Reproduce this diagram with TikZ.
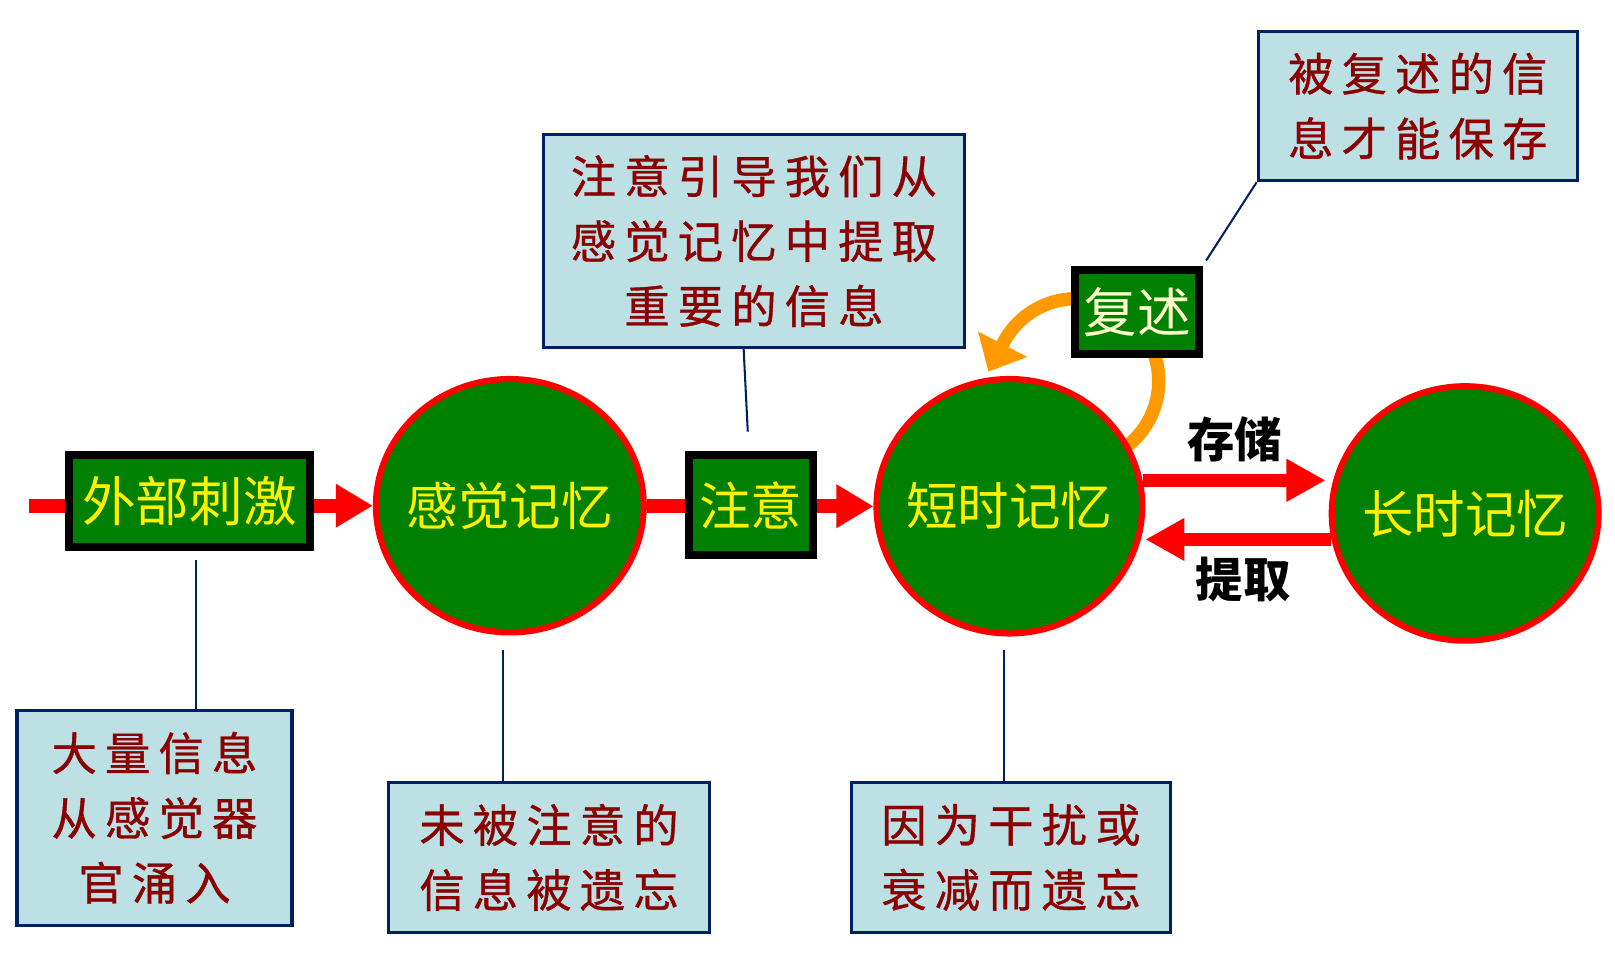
\documentclass[tikz,border=0pt]{standalone}
\usepackage{fontspec}
\setmainfont{Noto Sans CJK SC}
\newfontfamily\cjkspaced[LetterSpace=18,FakeBold=0.8]{Noto Sans CJK SC}
\usetikzlibrary{arrows.meta,shapes.geometric,calc}
\definecolor{dgreen}{RGB}{0,128,0}
\definecolor{navy}{RGB}{0,32,96}
\definecolor{noteblue}{RGB}{188,224,228}
\definecolor{notered}{RGB}{139,0,0}
\definecolor{rorange}{RGB}{255,153,0}
\definecolor{paleyellow}{RGB}{255,255,204}
\begin{document}
\begin{tikzpicture}[x=1pt,y=-1pt,
  greenbox/.style={draw=black, line width=8pt, fill=dgreen, inner sep=0pt, text=yellow, font=\fontsize{52}{60}\selectfont},
  memcirc/.style={ellipse, draw=red, line width=6pt, fill=dgreen, inner sep=0pt, text=yellow, font=\fontsize{50}{60}\selectfont},
  note/.style={draw=navy, line width=3pt, fill=noteblue, inner sep=0pt, text=notered, align=center, font=\cjkspaced\fontsize{44}{63}\selectfont},
  redline/.style={draw=red, line width=14pt},
  redarrow/.style={draw=red, line width=14pt, -{Triangle[length=36pt,width=40pt]}},
  thinarrow/.style={draw=red, line width=13pt, -{Triangle[length=38pt,width=39pt]}},
  rehearse/.style={draw=rorange, line width=13pt, -{Triangle[length=30pt,width=52pt]}},
  link/.style={draw=navy, line width=2pt},
  lbl/.style={font=\bfseries\fontsize{46}{50}\selectfont, text=black}
]
\fill[white] (0,0) rectangle (1568,928);
\useasboundingbox (0,0) rectangle (1568,928);

% rehearsal loop
\coordinate (oc) at (1045,370);
\draw[rehearse] (oc) ++(55:80) arc[start angle=55,end angle=-152,radius=80] -- ++(-14.7,28.4);

% main nodes
\node[greenbox, minimum width=234pt, minimum height=89pt] (A) at (184,486.5) {外部刺激};
\node[memcirc, minimum width=260pt, minimum height=246pt] (S) at (495,491) {\makebox[0pt]{感觉记忆}};
\node[greenbox, minimum width=120pt, minimum height=97pt, font=\fontsize{50}{60}\selectfont] (B) at (729,490.5) {注意};
\node[memcirc, minimum width=258pt, minimum height=247pt] (T) at (980,491.5) {\makebox[0pt]{短时记忆}};
\node[memcirc, minimum width=259pt, minimum height=247pt] (L) at (1422.5,498.5) {\makebox[0pt]{长时记忆}};
\node[greenbox, minimum width=120pt, minimum height=82pt, text=paleyellow] (R) at (1104,303) {复述};

% callouts
\node[note, minimum width=267pt, minimum height=209pt] (C1) at (150,794) {大量信息\\从感觉器\\官涌入};
\node[note, minimum width=311pt, minimum height=146pt] (C2) at (533,832.5) {未被注意的\\信息被遗忘};
\node[note, minimum width=310pt, minimum height=146pt] (C3) at (981.5,832.5) {因为干扰或\\衰减而遗忘};
\node[note, minimum width=409pt, minimum height=207pt] (C4) at (732,234) {注意引导我们从\\感觉记忆中提取\\重要的信息};
\node[note, minimum width=310pt, minimum height=145pt] (C5) at (1376.5,103) {被复述的信\\息才能保存};

% red flow
\coordinate (in) at (28,491);
\draw[redline] (in) -- (A.west |- in);
\draw[redarrow] (A.east |- S.center) -- (S.west);
\draw[redline] (S.east) -- (B.west |- S.east);
\draw[redarrow] (B.east |- T.center) -- (T.west);
\draw[thinarrow] (T.11.6) -- ($(T.11.6 -| L.west)+(-3,0)$);
\draw[thinarrow] (L.191) -- (L.191 -| T.east);

% labels
\node[lbl] (cc) at (1199,427) {存储};
\node[lbl] (tq) at (1207,563) {提取};

% links to callouts
\coordinate (la) at (190,544);
\draw[link] (la) -- (la |- C1.north);
\coordinate (ls) at (488,631);
\draw[link] (ls) -- (ls |- C2.north);
\coordinate (lt) at (975,631);
\draw[link] (lt) -- (lt |- C3.north);
\coordinate (lb) at (726,419);
\draw[link] (lb) -- ($(C4.south)+(-10,0)$);
\coordinate (lr) at (1171,253);
\draw[link] (lr) -- (C5.south west);
\end{tikzpicture}
\end{document}
